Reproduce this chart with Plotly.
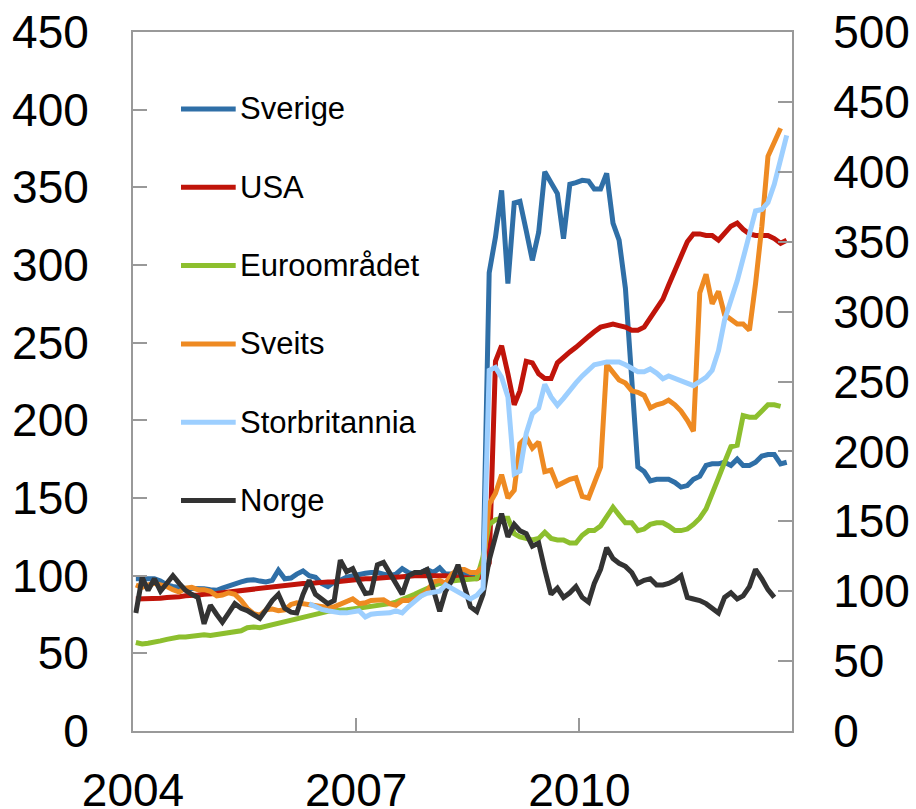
import plotly.graph_objects as go

N = 106
dates = [f"{2004 + k // 12}-{k % 12 + 1:02d}-15" for k in range(N)]

# left axis series
sverige = [98, 98, 98, 98, 96.5, 94, 93, 92, 91.7, 91.7,
           92, 91.5, 91, 90.6, 92, 93.5, 95, 96, 97, 97.4,
           96.5, 96, 97, 103.5, 98, 98.5, 101, 103, 100, 99,
           95, 93, 96, 97, 99, 100, 100.7, 101.5, 102, 102,
           101, 100, 101, 104.5, 102, 101, 102, 104, 102, 105,
           101, 101, 100, 101, 99, 101,
           103, 295, 318, 348,
           288, 340, 341, 322, 303, 321, 360, 353, 346, 317,
           352, 353, 354.5, 354, 349, 349, 359, 327, 316, 285,
           230, 170, 167, 161, 162, 162, 162, 160, 157, 158,
           162, 164, 171, 172, 172, 173, 171, 175, 171, 171,
           173, 177, 178, 178, 172, 173]

usa = [85, 85, 85, 85.5, 85.5, 86, 86, 86.5, 87, 87,
       87.5, 88, 88, 88.5, 89, 89.5, 90, 90.5, 91, 91.5,
       92, 92.5, 93, 93, 93.5, 94, 94.5, 95, 95, 95.5,
       95.5, 96, 96, 96.5, 97, 97, 97.5, 98, 98, 98.5,
       98.5, 99, 99, 99.5, 99.5, 100, 100, 100, 100.5, 100.5,
       100, 99.5, 99, 98.5, 98, 98,
       100, 108, 238, 248,
       230, 210, 219, 238, 237, 230, 227, 227, 237, 241,
       244, 247, 251, 254, 257, 260, 261, 262, 261, 260,
       258, 258, 260, 266, 272, 278, 287, 297, 306, 315,
       320, 320, 319, 319, 316, 321, 325, 327, 323, 320,
       319, 319, 319, 317, 314, 316]

euro = [57, 56, 56.5, 57, 58, 59, 60, 60.5, 60.5, 61,
        61, 62, 61.5, 62, 63, 63.5, 64, 64.5, 66.5, 67,
        66.5, 67.5, 68.5, 69.5, 70.5, 71, 72.5, 73.5, 74.5, 75.5,
        76.5, 77, 77.5, 77.5, 78, 78.5, 79, 79.5, 80, 80.5,
        81, 82, 83, 84.5, 86, 88, 90, 92, 93.5, 95,
        96, 96.5, 97, 97.5, 98, 98,
        112, 133, 136, 137,
        137, 127, 125, 124, 123, 124, 128, 124, 123, 123,
        121, 121, 126, 129, 129, 132, 138, 144, 139, 134,
        134, 129, 130, 133, 134, 134, 132, 129, 129, 130,
        133, 137, 143, 152, 163, 173, 183, 184, 203, 202,
        202, 206, 210, 210, 209, None]

sveits = [94, 92.5, 94, 95, 94, 93, 91, 89.5, 92, 92.5,
          91, 91, 90, 87, 87.5, 89, 88, 84, 79, 75.5,
          74.5, 78, 78.5, 77.5, 78, 81.5, 82.5, 82, 81, 81,
          80, 79.5, 80, 81.5, 83, 85, 82, 82.5, 84, 84,
          84.5, 82, 81, 84, 84, 85, 87, 90, 96, 97,
          95, 101, 104, 104, 102, 102,
          106, 146, 153, 165,
          150, 155, 185, 189, 182, 186, 167, 168, 158, 160,
          162, 163, 151, 150, 160, 170, 236, 231, 226, 224,
          219, 218, 216, 208, 210, 211, 213, 210, 206, 200,
          193, 282, 294, 275, 283, 268, 265, 262, 262, 258,
          288, 325, 370, 379, 388, None]

# right axis series
storbritannia = [None] * 28 + [
    91, 89,
    87, 86, 85, 84.5, 84.5, 85.5, 86, 81.5, 83.5, 84,
    84, 84.5, 86, 84.5, 89, 93, 96.5, 98.5, 99.5, 100,
    104.5, 102, 100, 96.5, 94.5, 97,
    102, 258, 260, 253,
    239, 184, 186, 213, 227, 231, 248, 239, 233, 238,
    244, 249, 254, 258, 262, 263, 264, 264, 264, 262,
    259, 257, 257, 259, 256, 252, 254, 252, 251, 249,
    247, 250, 253, 258, 272, 294, 308, 322, 338, 356,
    372, 373, 378, 391, 410, 426]

norge = [76, 99, 90.5, 98, 90, 95, 100, 95, 90.5, 88,
         86, 69, 81, 75, 70, 76, 82, 79, 77.5, 75,
         72.5, 78, 84, 88, 79, 76.5, 76, 88, 97, 88,
         85, 82, 84, 110, 102.5, 104.5, 96, 88.5, 89, 107,
         108.5, 102, 96, 88, 100, 102, 102, 104, 91, 77,
         90, 97, 107, 92, 80, 77,
         88, 110, 127, 140,
         125, 133, 129, 127, 119, 121, 104, 88, 92, 86,
         89, 93, 86, 83, 95, 104, 118, 111, 108, 106,
         102, 95, 97, 98, 94, 94, 95, 97, 100, 86,
         85, 84, 82, 79, 76, 86, 89, 85, 87, 93,
         104, 98, 91, 86, None, None]

names = ["Sverige", "USA", "Euroområdet", "Sveits", "Storbritannia", "Norge"]
series = [sverige, usa, euro, sveits, storbritannia, norge]
axes = ["y", "y", "y", "y", "y2", "y"]
colors = ["#2F6FA7", "#C0140A", "#8DBF2E", "#EE8A22", "#9DCFFF", "#333333"]

left_ticks = list(range(0, 451, 50))
right_ticks = list(range(0, 501, 50))
year_ticks = ["2004-01-01", "2007-01-01", "2010-01-01"]
year_labels = ["2004", "2007", "2010"]

fig = go.Figure()
for name, ys, col, ax in zip(names, series, colors, axes):
    fig.add_trace(go.Scatter(x=dates, y=ys, name=name, mode="lines", yaxis=ax,
                             line=dict(color=col, width=5),
                             connectgaps=False, showlegend=False))

axis_col = "#999999"
fig.update_layout(
    width=916, height=809,
    margin=dict(l=133, r=124, t=32, b=78, autoexpand=False),
    plot_bgcolor="white", paper_bgcolor="white",
    font=dict(family="Liberation Sans, Arial, sans-serif", size=46, color="black"),
    showlegend=False,
    xaxis=dict(type="date", range=["2004-01-01", "2012-11-10"],
               tickvals=year_ticks, ticktext=year_labels,
               ticks="inside", ticklen=13, tickwidth=2, tickcolor=axis_col,
               showline=True, linecolor=axis_col, linewidth=2, mirror=True,
               showgrid=False, zeroline=False, automargin=False,
               ticklabelstandoff=18),
    yaxis=dict(range=[0, 450], tickvals=left_ticks,
               ticks="inside", ticklen=14, tickwidth=2, tickcolor=axis_col,
               showline=True, linecolor=axis_col, linewidth=2,
               showgrid=False, zeroline=False, automargin=False,
               ticklabelstandoff=33),
    yaxis2=dict(range=[0, 500], tickvals=right_ticks, overlaying="y", side="right",
                ticks="inside", ticklen=14, tickwidth=2, tickcolor=axis_col,
                showline=True, linecolor=axis_col, linewidth=2,
                showgrid=False, zeroline=False, automargin=False,
                ticklabelstandoff=30),
)

# manual legend
plot_w, plot_h = 659.0, 699.0
x0 = (181 - 133) / plot_w
x1 = (235.7 - 133) / plot_w
xt = (237.7 - 133) / plot_w
for i, (name, col) in enumerate(zip(names, colors)):
    ypix = 109 + 78.3 * i
    yp = (731 - ypix) / plot_h
    fig.add_shape(type="line", xref="paper", yref="paper", x0=x0, x1=x1, y0=yp, y1=yp,
                  line=dict(color=col, width=5))
    fig.add_annotation(xref="paper", yref="paper", x=xt, y=yp, text=name,
                       showarrow=False, xanchor="left", yanchor="middle",
                       font=dict(size=31, color="black"))

# remove the default 8px page margin so the figure fills the window exactly
fig.write_html("out.html",
               config={"displayModeBar": False},
               post_script="document.body.style.margin='0';document.body.style.overflow='hidden';")
